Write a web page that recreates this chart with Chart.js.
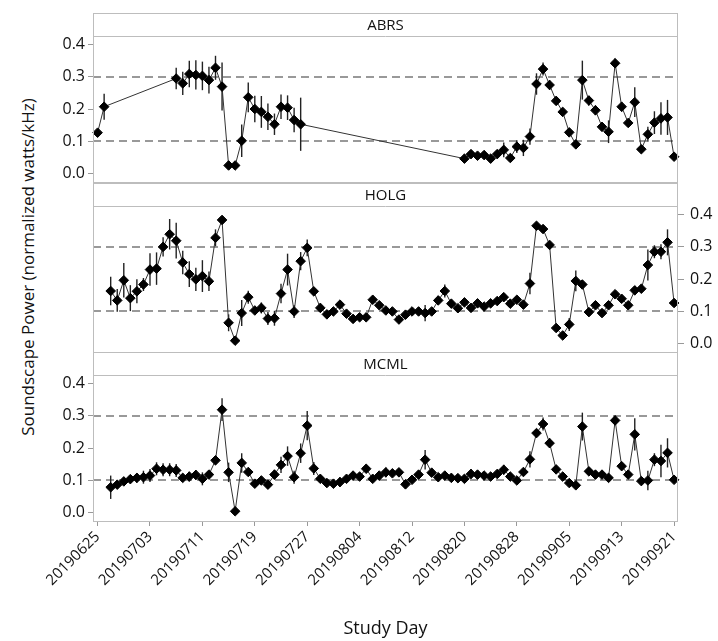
<!DOCTYPE html>
<html>
<head>
<meta charset="utf-8">
<title>Soundscape Power by Study Day</title>
<script src="https://cdn.jsdelivr.net/npm/chart.js@4.4.1/dist/chart.umd.min.js"></script>
<style>
  html, body { margin: 0; padding: 0; background: #fff; }
  #figure { position: relative; width: 718px; height: 641px; overflow: hidden; }
  #figure canvas { position: absolute; left: 0; }
  #ytitle {
    position: absolute; left: 27px; top: 267px;
    transform: translate(-50%, -50%) rotate(-90deg);
    white-space: nowrap; font: 17px "Open Sans", sans-serif; color: #111;
  }
</style>
</head>
<body>
<div id="figure">
  <div id="ytitle">Soundscape Power (normalized watts/kHz)</div>
  <canvas id="abrs" width="718" height="200" style="top:0"></canvas>
  <canvas id="holg" width="718" height="200" style="top:170px"></canvas>
  <canvas id="mcml" width="718" height="302" style="top:339px"></canvas>
</div>
<script>
// x positions are study days counted from 20190625
const tickLabels = ['20190625', '20190703', '20190711', '20190719', '20190727', '20190804',
                    '20190812', '20190820', '20190828', '20190905', '20190913', '20190921'];
const refLines = [0.1, 0.3];

const abrsDays = [0, 1,
  12, 13, 14, 15, 16, 17, 18, 19, 20, 21, 22, 23, 24, 25, 26, 27, 28, 29, 30, 31,
  56, 57, 58, 59, 60, 61, 62, 63, 64, 65, 66, 67, 68, 69, 70, 71, 72, 73, 74, 75, 76, 77,
  78, 79, 80, 81, 82, 83, 84, 85, 86, 87, 88];
const abrsMean = [0.127, 0.207,
  0.294, 0.279, 0.308, 0.305, 0.302, 0.289, 0.327, 0.269, 0.026, 0.026,
  0.102, 0.236, 0.200, 0.191, 0.176, 0.153, 0.207, 0.204, 0.166, 0.153,
  0.047, 0.061, 0.056, 0.058, 0.047, 0.061, 0.074, 0.049, 0.084, 0.080, 0.115,
  0.277, 0.323, 0.274, 0.225, 0.191, 0.128, 0.091, 0.289, 0.226, 0.196, 0.145,
  0.130, 0.341, 0.207, 0.157, 0.221, 0.076, 0.122, 0.158, 0.171, 0.174, 0.053];
const abrsErr = [0.010, 0.040,
  0.033, 0.036, 0.041, 0.045, 0.044, 0.041, 0.037, 0.074, 0.005, 0.005,
  0.050, 0.046, 0.041, 0.049, 0.041, 0.033, 0.038, 0.038, 0.038, 0.082,
  0.008, 0.008, 0.008, 0.008, 0.008, 0.010, 0.023, 0.010, 0.020, 0.025, 0.025,
  0.033, 0.020, 0.015, 0.012, 0.010, 0.010, 0.010, 0.060, 0.015, 0.015, 0.012,
  0.035, 0.015, 0.015, 0.012, 0.046, 0.010, 0.023, 0.035, 0.050, 0.054, 0.010];

// HOLG and MCML were sampled every day from 20190627 on
const dailyDays = [2, 3, 4, 5, 6, 7, 8, 9, 10, 11, 12, 13, 14, 15, 16, 17, 18, 19, 20, 21,
  22, 23, 24, 25, 26, 27, 28, 29, 30, 31, 32, 33, 34, 35, 36, 37, 38, 39, 40, 41,
  42, 43, 44, 45, 46, 47, 48, 49, 50, 51, 52, 53, 54, 55, 56, 57, 58, 59, 60, 61,
  62, 63, 64, 65, 66, 67, 68, 69, 70, 71, 72, 73, 74, 75, 76, 77, 78, 79, 80, 81,
  82, 83, 84, 85, 86, 87, 88];

const holgMean = [
  0.163, 0.134, 0.196, 0.141, 0.162, 0.183, 0.229, 0.232, 0.299, 0.338,
  0.318, 0.251, 0.215, 0.199, 0.209, 0.193, 0.327, 0.382, 0.065, 0.010,
  0.095, 0.144, 0.103, 0.111, 0.078, 0.079, 0.155, 0.229, 0.100, 0.255,
  0.296, 0.162, 0.111, 0.091, 0.100, 0.121, 0.093, 0.077, 0.082, 0.082,
  0.136, 0.119, 0.103, 0.100, 0.075, 0.090, 0.100, 0.100, 0.095, 0.100,
  0.134, 0.163, 0.124, 0.110, 0.128, 0.111, 0.125, 0.115, 0.125, 0.132,
  0.144, 0.124, 0.136, 0.121, 0.186, 0.364, 0.354, 0.305, 0.049, 0.026,
  0.060, 0.194, 0.183, 0.098, 0.119, 0.095, 0.119, 0.153, 0.139, 0.119,
  0.165, 0.170, 0.243, 0.284, 0.284, 0.313, 0.126];
const holgErr = [
  0.044, 0.035, 0.053, 0.040, 0.037, 0.020, 0.050, 0.050, 0.030, 0.047,
  0.055, 0.036, 0.040, 0.036, 0.049, 0.030, 0.026, 0.010, 0.026, 0.008,
  0.040, 0.020, 0.010, 0.017, 0.020, 0.023, 0.030, 0.049, 0.020, 0.028,
  0.026, 0.010, 0.008, 0.010, 0.010, 0.010, 0.010, 0.012, 0.010, 0.012,
  0.012, 0.010, 0.010, 0.010, 0.012, 0.012, 0.010, 0.012, 0.025, 0.010,
  0.012, 0.020, 0.010, 0.008, 0.010, 0.008, 0.010, 0.008, 0.010, 0.010,
  0.010, 0.010, 0.010, 0.010, 0.033, 0.010, 0.010, 0.012, 0.010, 0.008,
  0.020, 0.032, 0.012, 0.010, 0.010, 0.010, 0.010, 0.010, 0.010, 0.010,
  0.012, 0.012, 0.048, 0.020, 0.023, 0.040, 0.010];

const mcmlMean = [
  0.079, 0.087, 0.097, 0.104, 0.108, 0.110, 0.115, 0.136, 0.133, 0.133,
  0.131, 0.108, 0.112, 0.117, 0.105, 0.118, 0.162, 0.318, 0.125, 0.005,
  0.154, 0.126, 0.090, 0.100, 0.087, 0.118, 0.148, 0.175, 0.110, 0.184,
  0.269, 0.137, 0.105, 0.092, 0.090, 0.095, 0.105, 0.115, 0.112, 0.136,
  0.105, 0.115, 0.125, 0.122, 0.125, 0.088, 0.102, 0.118, 0.164, 0.124,
  0.110, 0.115, 0.108, 0.107, 0.105, 0.120, 0.118, 0.115, 0.112, 0.120,
  0.133, 0.112, 0.100, 0.126, 0.165, 0.246, 0.274, 0.215, 0.134, 0.112,
  0.092, 0.085, 0.266, 0.128, 0.118, 0.118, 0.108, 0.285, 0.144, 0.118,
  0.242, 0.098, 0.100, 0.164, 0.160, 0.185, 0.102];
const mcmlErr = [
  0.036, 0.010, 0.010, 0.010, 0.015, 0.020, 0.020, 0.020, 0.020, 0.020,
  0.020, 0.010, 0.015, 0.015, 0.020, 0.010, 0.010, 0.035, 0.030, 0.005,
  0.030, 0.010, 0.010, 0.010, 0.010, 0.015, 0.025, 0.030, 0.020, 0.030,
  0.045, 0.020, 0.010, 0.010, 0.010, 0.015, 0.010, 0.010, 0.010, 0.010,
  0.010, 0.010, 0.015, 0.010, 0.010, 0.010, 0.010, 0.010, 0.030, 0.010,
  0.010, 0.010, 0.010, 0.010, 0.010, 0.015, 0.010, 0.010, 0.010, 0.010,
  0.015, 0.010, 0.010, 0.010, 0.025, 0.010, 0.020, 0.015, 0.010, 0.010,
  0.010, 0.010, 0.043, 0.010, 0.010, 0.010, 0.010, 0.015, 0.010, 0.010,
  0.050, 0.010, 0.030, 0.020, 0.050, 0.045, 0.010];

Chart.defaults.font.family = '"Open Sans", sans-serif';
Chart.defaults.color = '#111';

const STRIP = 23;      // height of the site-name strip above each panel
const FRAME = '#bdbdbd';

// dashed reference lines + error bars under the points, frame and strip on top
const panelDecor = {
  id: 'panelDecor',
  beforeDatasetsDraw(chart) {
    const { ctx, chartArea: a, scales: { x, y } } = chart;
    ctx.save();
    ctx.strokeStyle = '#999';
    ctx.lineWidth = 1.8;
    ctx.setLineDash([8, 5]);
    refLines.forEach(v => {
      const py = Math.round(y.getPixelForValue(v));
      ctx.beginPath();
      ctx.moveTo(a.left, py);
      ctx.lineTo(a.right, py);
      ctx.stroke();
    });
    ctx.setLineDash([]);
    const ds = chart.data.datasets[0];
    ctx.strokeStyle = '#222';
    ctx.lineWidth = 1.4;
    ds.data.forEach((p, i) => {
      const px = x.getPixelForValue(p.x);
      ctx.beginPath();
      ctx.moveTo(px, y.getPixelForValue(p.y - ds.errors[i]));
      ctx.lineTo(px, y.getPixelForValue(p.y + ds.errors[i]));
      ctx.stroke();
    });
    ctx.restore();
  },
  afterDraw(chart) {
    const { ctx, chartArea: a } = chart;
    const top = a.top - STRIP;
    ctx.save();
    ctx.strokeStyle = FRAME;
    ctx.lineWidth = 1;
    ctx.strokeRect(a.left + 0.5, top + 0.5, a.right - a.left - 1, a.bottom - top);
    ctx.beginPath();
    ctx.moveTo(a.left, a.top + 0.5);
    ctx.lineTo(a.right, a.top + 0.5);
    ctx.stroke();
    ctx.fillStyle = '#111';
    ctx.font = '15px "Open Sans", sans-serif';
    ctx.textAlign = 'center';
    ctx.textBaseline = 'middle';
    ctx.fillText(chart.data.datasets[0].label, (a.left + a.right) / 2, top + STRIP / 2 + 1);
    ctx.restore();
  }
};

function makePanel(id, name, days, mean, err, side, showX) {
  const left = side === 'left';
  return new Chart(document.getElementById(id), {
    type: 'line',
    data: {
      datasets: [{
        label: name,
        data: days.map((d, i) => ({ x: d, y: mean[i] })),
        errors: err,
        borderColor: '#333',
        borderWidth: 1,
        pointStyle: 'rectRot',
        pointRadius: 4.8,
        pointBackgroundColor: '#000',
        pointBorderColor: '#000',
        pointBorderWidth: 1,
        tension: 0,
        clip: false
      }]
    },
    options: {
      responsive: false,
      animation: false,
      events: [],
      layout: {
        padding: {
          top: 13 + STRIP,
          bottom: showX ? 0 : 18,
          left: left ? 0 : 93,
          right: left ? 40 : 0
        }
      },
      plugins: { legend: { display: false }, tooltip: { enabled: false } },
      scales: {
        x: {
          type: 'linear',
          min: -0.7,
          max: 88.6,
          display: showX,
          // only the bottom panel carries the date axis
          afterFit: s => { if (showX) s.height = 120; },
          border: { display: false },
          grid: { drawOnChartArea: false, tickColor: '#999', tickLength: 5 },
          ticks: {
            stepSize: 8,
            includeBounds: false,
            autoSkip: false,
            minRotation: 45,
            maxRotation: 45,
            padding: 2,
            font: { size: 15 },
            callback: v => tickLabels[Math.round(v / 8)]
          },
          title: {
            display: true,
            text: 'Study Day',
            font: { size: 18 },
            padding: { top: 0, bottom: 1 }
          }
        },
        y: {
          position: side,
          min: -0.025,
          max: 0.425,
          afterFit: s => { s.width = left ? 93 : 40; },
          border: { display: false },
          grid: { drawOnChartArea: false, tickColor: '#999', tickLength: left ? 5 : 6 },
          ticks: {
            stepSize: 0.1,
            includeBounds: false,
            padding: left ? 3 : 6,
            font: { size: 16 },
            callback: v => v.toFixed(1)
          }
        }
      }
    },
    plugins: [panelDecor]
  });
}

makePanel('abrs', 'ABRS', abrsDays, abrsMean, abrsErr, 'left', false);
makePanel('holg', 'HOLG', dailyDays, holgMean, holgErr, 'right', false);
makePanel('mcml', 'MCML', dailyDays, mcmlMean, mcmlErr, 'left', true);
</script>
</body>
</html>
